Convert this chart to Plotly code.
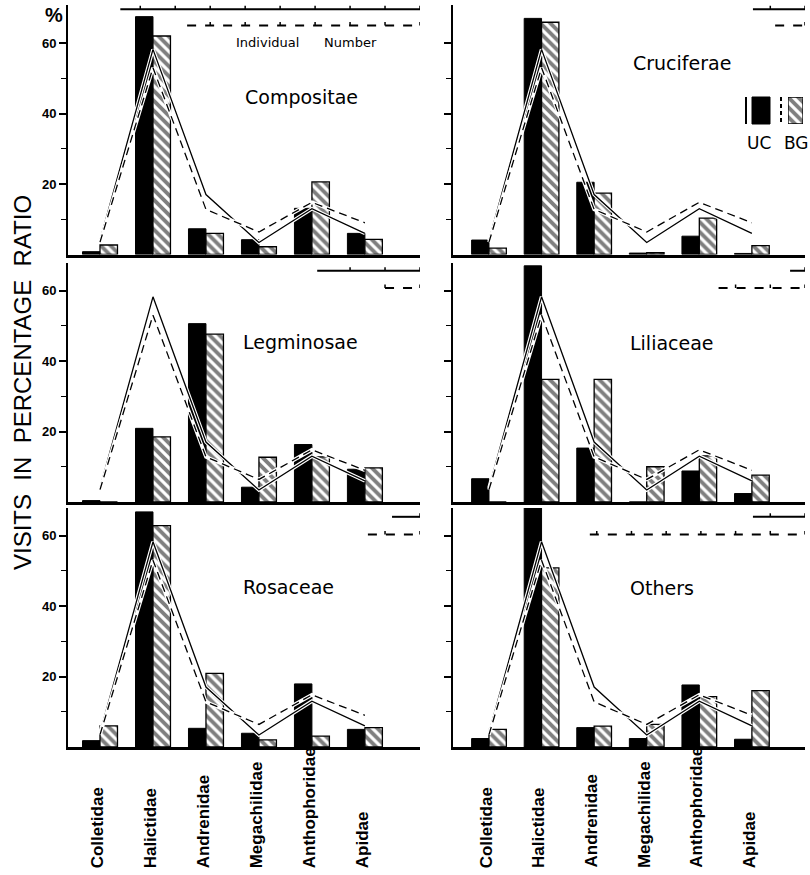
import plotly.graph_objects as go

# ---------------- data ----------------
families = ["Colletidae", "Halictidae", "Andrenidae", "Megachilidae", "Anthophoridae", "Apidae"]
plants = ["Compositae", "Cruciferae", "Legminosae", "Liliaceae", "Rosaceae", "Others"]

uc_compositae = [0.8, 67.5, 7.3, 4.2, 13.1, 6.0]
bg_compositae = [2.7, 62.0, 6.0, 2.2, 20.6, 4.3]
uc_cruciferae = [4.1, 67.0, 20.5, 0.4, 5.2, 0.3]
bg_cruciferae = [1.8, 65.9, 17.4, 0.5, 10.3, 2.5]
uc_legminosae = [0.4, 20.9, 50.6, 4.2, 16.3, 9.3]
bg_legminosae = [0.0, 18.5, 47.6, 12.7, 12.8, 9.7]
uc_liliaceae = [6.6, 67.0, 15.3, 0.0, 8.8, 2.4]
bg_liliaceae = [0.0, 34.8, 34.8, 10.0, 13.1, 7.6]
uc_rosaceae = [1.8, 66.7, 5.3, 3.9, 17.9, 5.0]
bg_rosaceae = [6.0, 62.8, 20.9, 2.0, 3.1, 5.5]
uc_others = [2.4, 68.0, 5.5, 2.4, 17.6, 2.2]
bg_others = [5.0, 50.8, 5.9, 6.4, 14.3, 16.0]

# overall percentage lines (same in every panel)
uc_total_line = [4.0, 58.2, 17.0, 3.4, 13.0, 6.0]
bg_total_line = [3.5, 53.0, 12.8, 6.4, 14.8, 9.0]

# individual-number scale bars (in tick units)
uc_scale = [8.57, 1.5, 2.94, 0.43, 0.8, 1.5]
bg_scale = [6.66, 0.86, 1.0, 2.49, 1.49, 6.2]

yticks_major = [20, 40, 60]
yticks_minor = [10, 30, 50]

uc_values = [uc_compositae, uc_cruciferae, uc_legminosae, uc_liliaceae, uc_rosaceae, uc_others]
bg_values = [bg_compositae, bg_cruciferae, bg_legminosae, bg_liliaceae, bg_rosaceae, bg_others]

# ---------------- layout helpers ----------------
W, H = 810, 875


def px(x):
    return x / W


def py(y):
    return 1 - y / H


x_domains = [[px(68), px(420)], [px(453), px(805)]]
x_ranges = [[-0.604, 6.04], [-0.684, 6.01]]
y_domains = [[py(254.5), py(5)], [py(502), py(263)], [py(747), py(508)]]
y_ranges = [[0, 70.8], [0, 67.8], [0, 67.8]]
scale_y = [[69.6, 65.0], [65.6, 60.7], [65.3, 60.3]]
tick_unit = 0.66

HATCH = dict(shape="\\", fgcolor="black", bgcolor="white", size=7, solidity=0.55)

fig = go.Figure()
xcat = list(range(len(families)))
shapes = []
annotations = []
font_main = "DejaVu Sans"

for i, plant in enumerate(plants):
    row, col = i // 2, i % 2
    ax = "" if i == 0 else str(i + 1)
    xa, ya = "x" + ax, "y" + ax
    fig.add_trace(go.Bar(
        x=xcat, y=uc_values[i], xaxis=xa, yaxis=ya, name="UC", showlegend=False,
        marker=dict(color="black", line=dict(color="black", width=1)),
    ))
    fig.add_trace(go.Bar(
        x=xcat, y=bg_values[i], xaxis=xa, yaxis=ya, name="BG", showlegend=False,
        marker=dict(color="white", line=dict(color="black", width=1.3), pattern=HATCH),
    ))
    # lines with white halo so they read on black bars
    for vals, dash in ((uc_total_line, "solid"), (bg_total_line, "dash")):
        fig.add_trace(go.Scatter(
            x=xcat, y=vals, xaxis=xa, yaxis=ya, mode="lines", showlegend=False,
            line=dict(color="white", width=3.6), hoverinfo="skip",
        ))
        fig.add_trace(go.Scatter(
            x=xcat, y=vals, xaxis=xa, yaxis=ya, mode="lines", showlegend=False,
            line=dict(color="black", width=1.3, dash="8px,5px" if dash == "dash" else "solid"),
        ))

    xr = x_ranges[col]
    fig.layout["xaxis" + ax] = dict(
        domain=x_domains[col], range=xr, anchor=ya, showline=True, linewidth=2.5,
        linecolor="black", showticklabels=False, ticks="", showgrid=False, zeroline=False,
        fixedrange=True,
    )
    left = col == 0
    fig.layout["yaxis" + ax] = dict(
        domain=y_domains[row], range=y_ranges[row], anchor=xa, showline=True, linewidth=2,
        linecolor="black", showgrid=False, zeroline=False,
        tickvals=yticks_major, ticktext=[str(v) for v in yticks_major] if left else ["", "", ""],
        ticks="outside", ticklen=7, tickwidth=1.5, tickcolor="black",
        tickfont=dict(family="Liberation Sans", size=13, color="black", weight="bold"),
        minor=dict(tickvals=yticks_minor, ticks="outside", ticklen=5, tickwidth=1.3,
                   tickcolor="black"),
        fixedrange=True,
    )

    # scale bars (individual number)
    xmax = xr[1]
    ys_solid, ys_dash = scale_y[row]
    for length, yv, dash in ((uc_scale[i], ys_solid, "solid"), (bg_scale[i], ys_dash, "dash")):
        x0 = xmax - length * tick_unit
        shapes.append(dict(type="line", xref=xa, yref=ya, x0=x0, x1=xmax, y0=yv, y1=yv,
                           line=dict(color="black", width=2, dash=dash)))
        n = 0
        while True:
            xt = xmax - n * tick_unit
            if xt < x0 - 1e-6:
                break
            shapes.append(dict(type="line", xref=xa, yref=ya, x0=xt, x1=xt,
                               y0=yv, y1=yv + 1.0, line=dict(color="black", width=1.5)))
            n += 1

    # category labels on bottom row
    if row == 2:
        for k, fam in enumerate(families):
            annotations.append(dict(
                xref=xa, yref="paper", x=k - 0.05, y=py(870), text=fam, textangle=-90,
                showarrow=False, xanchor="center", yanchor="bottom", width=160, height=22,
                align="left",
                font=dict(family="Liberation Sans", size=17, color="black", weight="bold"),
            ))

# panel titles
title_pos = [(301, 97), (682, 63), (300, 342), (672, 343), (288, 587), (662, 588)]
for plant, (tx, ty) in zip(plants, title_pos):
    annotations.append(dict(xref="paper", yref="paper", x=px(tx), y=py(ty), text=plant,
                            showarrow=False, xanchor="center", yanchor="middle",
                            font=dict(family=font_main, size=19, color="black")))

annotations.append(dict(xref="paper", yref="paper", x=px(306), y=py(42),
                        text="Individual&nbsp;&nbsp;&nbsp;&nbsp;&nbsp;&nbsp;Number", showarrow=False,
                        xanchor="center", yanchor="middle",
                        font=dict(family=font_main, size=13, color="black")))
annotations.append(dict(xref="paper", yref="paper", x=px(54), y=py(15), text="%",
                        showarrow=False, xanchor="center", yanchor="middle",
                        font=dict(family="Liberation Sans", size=20, color="black", weight="bold")))
annotations.append(dict(xref="paper", yref="paper", x=px(22), y=py(383),
                        text="VISITS&nbsp;&nbsp;IN&nbsp;&nbsp;PERCENTAGE&nbsp;&nbsp;RATIO",
                        textangle=-90, showarrow=False, xanchor="center", yanchor="middle",
                        font=dict(family="Liberation Sans", size=24, color="black")))

# legend (UC / BG) in the Cruciferae panel
shapes.append(dict(type="line", xref="paper", yref="paper", x0=px(746), x1=px(746),
                   y0=py(97), y1=py(124), line=dict(color="black", width=2)))
shapes.append(dict(type="rect", xref="paper", yref="paper", x0=px(752), x1=px(770),
                   y0=py(124), y1=py(97), fillcolor="black", line=dict(color="black", width=1)))
shapes.append(dict(type="line", xref="paper", yref="paper", x0=px(781), x1=px(781),
                   y0=py(97), y1=py(124), line=dict(color="black", width=2, dash="4px,3px")))
annotations.append(dict(xref="paper", yref="paper", x=px(759), y=py(143), text="UC",
                        showarrow=False, xanchor="center", yanchor="middle",
                        font=dict(family=font_main, size=17, color="black")))
annotations.append(dict(xref="paper", yref="paper", x=px(796), y=py(143), text="BG",
                        showarrow=False, xanchor="center", yanchor="middle",
                        font=dict(family=font_main, size=17, color="black")))

# hatched legend swatch as a bar on an auxiliary axis
fig.add_trace(go.Bar(x=[0], y=[1], xaxis="x7", yaxis="y7", showlegend=False, width=1,
                     marker=dict(color="white", line=dict(color="black", width=1.3),
                                 pattern=HATCH)))
fig.layout["xaxis7"] = dict(domain=[px(788), px(803)], range=[-0.5, 0.5], anchor="y7",
                            visible=False, fixedrange=True)
fig.layout["yaxis7"] = dict(domain=[py(124), py(97)], range=[0, 1], anchor="x7",
                            visible=False, fixedrange=True)

fig.update_layout(
    width=W, height=H, margin=dict(l=0, r=0, t=0, b=0),
    paper_bgcolor="white", plot_bgcolor="white",
    barmode="group", bargap=0.34, bargroupgap=0.0,
    shapes=shapes, annotations=annotations, showlegend=False,
)

fig.write_html("out.html")
